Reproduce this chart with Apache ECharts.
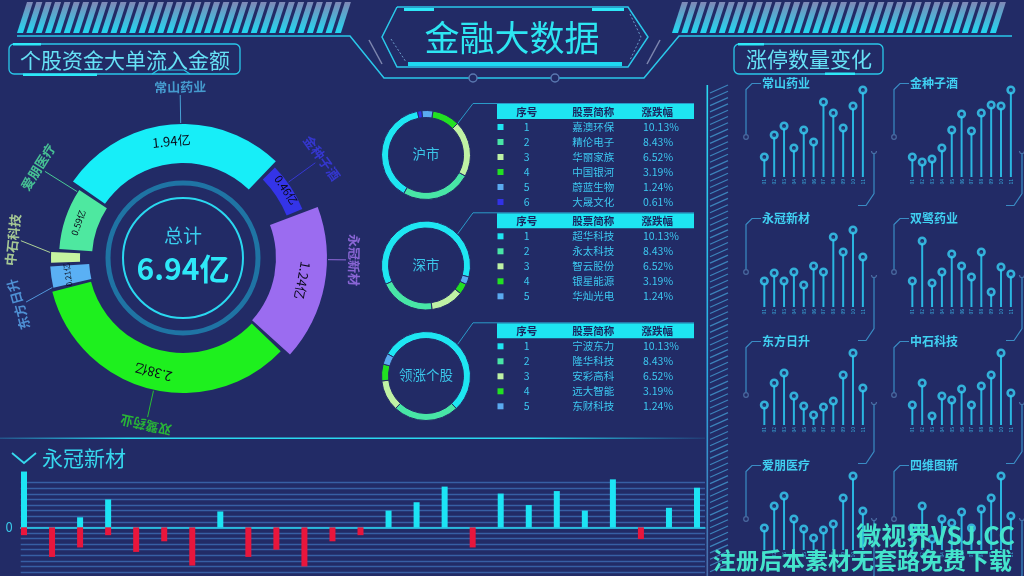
<!DOCTYPE html>
<html><head><meta charset="utf-8"><title>金融大数据</title>
<script src="https://cdn.jsdelivr.net/npm/echarts@6.0.0/dist/echarts.min.js"></script>
<style>html,body{margin:0;padding:0;background:#222b66;overflow:hidden}#main{width:1024px;height:576px}</style>
</head><body><div id="main"></div><script>
// ================= DATA =================
const pageTitle = '金融大数据';
const leftTitle = '个股资金大单流入金额';
const rightTitle = '涨停数量变化';
const totalLabel = '总计';
const unit = '亿';

const flowNames = ['常山药业','金种子酒','永冠新材','双鹭药业','东方日升','中石科技','爱朋医疗'];
const flowValues = [1.94, 0.46, 1.24, 2.38, 0.21, 0.12, 0.59];

const tableHeader = ['序号','股票简称','涨跌幅'];

const shTitle = '沪市';
const shNames = ['嘉澳环保','精伦电子','华丽家族','中国银河','蔚蓝生物','大晟文化'];
const shChange = ['10.13%','8.43%','6.52%','3.19%','1.24%','0.61%'];
const shRing = [139, 92, 73, 36, 14.5, 5.5];

const szTitle = '深市';
const szNames = ['超华科技','永太科技','智云股份','银星能源','华灿光电'];
const szChange = ['10.13%','8.43%','6.52%','3.19%','1.24%'];
const szRing = [220, 73, 43, 14, 10];

const leadTitle = '领涨个股';
const leadNames = ['宁波东力','隆华科技','安彩高科','远大智能','东财科技'];
const leadChange = ['10.13%','8.43%','6.52%','3.19%','1.24%'];
const leadRing = [197, 86, 40.5, 22, 14.4];

const limitTitles = ['常山药业','金种子酒','永冠新材','双鹭药业','东方日升','中石科技','爱朋医疗','四维图新'];
const limitDays = ['01','02','03','04','05','06','07','08','09','10','11'];
const limitChangShan = [20,42,51,29,47,35,75,64,49,71,87];
const limitJinZhong  = [20,15,18,29,47,63,46,64,72,71,87];
const limitYongGuan  = [26,34,26,35,22,41,35,70,55,77,50];
const limitShuangLu  = [26,66,24,35,53,41,30,55,15,40,33];
const limitDongFang  = [20,42,52,29,19,10,18,24,50,72,37];
const limitZhongShi  = [20,42,9,29,25,36,20,39,50,72,32];
const limitAiPeng    = [22,44,54,31,21,12,20,26,52,74,39];
const limitSiWei     = [22,44,11,31,27,38,22,41,52,74,34];

const barTitle = '永冠新材';
const barInflow  = [10,0,1.8,5,0,0,0,2.85,0,0,0,0,0,3.0,4.5,7.3,0,6.05,4,6.5,3.0,8.6,0,3.5,7.1];
const barOutflow = [-1.4,-5.3,-3.6,-1.4,-4.4,-2.5,-6.85,0,-5.3,-4,-7,-2.5,-1.4,0,0,0,-3.6,0,0,0,0,0,-2.1,0,0];

const watermark1 = '微视界VSJ.CC';
const watermark2 = '注册后本素材无套路免费下载';

// ================= STYLES =================
const BG = '#222b66';
const FONT = '"Noto Sans CJK SC","Noto Sans",sans-serif';
const LINE = '#2ac8ea';
const flowColors = ['#17eef8','#3434e8','#9b6cf0','#1ef01e','#5ab0f4','#c6f4a0','#4ee8a0'];
const flowNameColors = ['#4fb6e8','#3a3ae8','#a474f0','#2ad82a','#5aaaf0','#c8f0a0','#50e8a0'];
const flowRadius = [[95,134],[112,129],[93,144],[95,135],[94,133],[103,132],[91,124]];
const flowFont = [13,11,13,13,8,6,9];
const flowNameShift = [-4.7, 2.3, 10, 2, 7.4, -5.8, -13.4];
const PIE_C = [183, 258];
const START = 146;
const ringColors = ['#1ee6f2','#48e6a6','#bff2a4','#22e022','#5aaaf0','#3232e6'];

// ================= BUILD =================
const G = [];
function T(x, y, text, size, fill, align, weight, extra) {
  G.push(Object.assign({ type: 'text', x: x, y: y, silent: true,
    style: { text: text, fill: fill, fontSize: size, fontFamily: FONT, fontWeight: weight || 'normal',
      align: align || 'center', textAlign: align || 'center', verticalAlign: 'middle', textVerticalAlign: 'middle' } }, extra || {}));
}
function L(points, stroke, lw, dash) {
  G.push({ type: 'polyline', silent: true, shape: { points: points }, style: { stroke: stroke, lineWidth: lw || 1, fill: null, lineDash: dash || null } });
}
function R(x, y, w, h, fill, stroke, lw, r) {
  G.push({ type: 'rect', silent: true, shape: { x: x, y: y, width: w, height: h, r: r || 0 }, style: { fill: fill || 'none', stroke: stroke || null, lineWidth: lw || 0 } });
}
function C(cx, cy, r, fill, stroke, lw) {
  G.push({ type: 'circle', silent: true, shape: { cx: cx, cy: cy, r: r }, style: { fill: fill || 'none', stroke: stroke || null, lineWidth: lw || 0 } });
}
const stripeFill = { type: 'linear', x: 0, y: 0, x2: 0, y2: 1, colorStops: [{ offset: 0, color: '#8088b6' }, { offset: 1, color: '#20d8f2' }] };

// top stripes
[17, 672].forEach(function (x0) {
  for (let i = 0; i < 35; i++) {
    const bx = x0 + i * 9.35;
    G.push({ type: 'polygon', silent: true, shape: { points: [[bx, 33], [bx + 6, 33], [bx + 16, 2], [bx + 10, 2]] }, style: { fill: stripeFill } });
  }
});
// header lines
L([[17, 36], [350, 36], [384, 78], [644, 78], [679, 36], [1012, 36]], LINE, 1.5);
L([[369, 40], [382, 64]], 'rgba(200,210,235,0.55)', 1.5);
L([[660, 40], [647, 64]], 'rgba(200,210,235,0.55)', 1.5);
C(473, 78, 4, BG, '#5a78b0', 1.5);
C(555, 78, 4, BG, '#5a78b0', 1.5);
// title box
L([[397, 7], [628, 7], [648, 37], [628, 67], [397, 67], [382, 37], [397, 7]], LINE, 1.5);
R(404, 8, 30, 3, '#2ee8f8');
R(592, 8, 32, 3, '#2ee8f8');
R(408, 62, 214, 4, '#1ed8f0');
L([[391, 39], [406, 62]], '#6a9ac8', 1, [2, 2]);
L([[630, 14], [641, 37], [630, 60]], '#6a9ac8', 1, [2, 2]);
T(512, 38, pageTitle, 35, '#2de6f2');

// section titles
R(9, 44, 231, 30, 'none', LINE, 1.3, 5);
R(13, 43, 28, 2.5, '#2ee8f8');
R(23, 73.5, 74, 2.5, '#2ee8f8');
L([[152, 74], [158, 70], [184, 70], [190, 74]], LINE, 1.2);
T(125, 60, leftTitle, 21, '#66e2f6');
R(734, 44, 149, 30, 'none', LINE, 1.3, 5);
R(738, 43, 26, 2.5, '#2ee8f8');
R(825, 72.5, 30, 2.5, '#2ee8f8');
T(809, 59, rightTitle, 21, '#66e2f6');

// donut center decor
C(PIE_C[0], PIE_C[1], 75, 'none', '#1f74a4', 5);
C(PIE_C[0], PIE_C[1], 60, 'none', '#2ad8f0', 2);
const flowTotal = flowValues.reduce(function (a, b) { return a + b; }, 0);
T(PIE_C[0], 236, totalLabel, 19, '#3acdee');
T(PIE_C[0], 269, (Math.round(flowTotal * 100) / 100) + unit, 30, '#2ee8f8', 'center', 'bold');

// separator line above bottom chart
G.push({ type: 'rect', silent: true, shape: { x: 0, y: 437.5, width: 705, height: 1.5 }, style: { fill: { type: 'linear', x: 0, y: 0, x2: 1, y2: 0, colorStops: [{ offset: 0, color: 'rgba(40,200,240,0.25)' }, { offset: 0.18, color: '#2ad8f0' }, { offset: 0.75, color: '#2ad8f0' }, { offset: 1, color: 'rgba(40,200,240,0.1)' }] } } });
// bottom chart title
L([[12, 453], [24, 463], [36, 453]], '#36d8ee', 1.8);
T(42, 458, barTitle, 21, '#36d8ee', 'left');

// right panel strip
G.push({ type: 'rect', silent: true, shape: { x: 706.5, y: 85, width: 1.6, height: 491 }, style: { fill: { type: 'linear', x: 0, y: 0, x2: 0, y2: 1, colorStops: [{ offset: 0, color: '#2ad8f0' }, { offset: 0.6, color: '#2aa8e0' }, { offset: 1, color: '#4a6aa8' }] } } });
for (let y = 85; y < 570; y += 6.3) {
  L([[710, y + 8], [728, y]], 'rgba(70,160,215,0.75)', 1.2);
}

// tables
function table(headTop, title, names, changes, center) {
  const hh = 15;
  R(497, headTop, 197, hh, '#1ee4f2');
  const cols = [526.7, 593.3, 657.3];
  tableHeader.forEach(function (h, k) { T(cols[k], headTop + hh / 2 + 0.5, h, 10.5, '#1b2660', 'center', 'bold'); });
  names.forEach(function (n, i) {
    const y = headTop + hh / 2 + 15.5 + 15 * i;
    R(497.5, y - 3, 6, 6, ringColors[i]);
    T(526.7, y, String(i + 1), 10.5, '#3cc8f0');
    T(593.3, y, n, 10.5, '#3cc8f0');
    T(643, y, changes[i], 10.5, '#3cc8f0', 'left');
  });
  L([[455, center - 28], [473, headTop - 0.5], [694, headTop - 0.5]], '#2a9ac8', 1);
  T(426, center - 1, title, 13.5, '#3ac6ea');
}
table(104, shTitle, shNames, shChange, 155);
table(213.3, szTitle, szNames, szChange, 265.5);
table(323.3, leadTitle, leadNames, leadChange, 376);

// ================= SERIES =================
const series = [];
// big donut: per slice series
let acc = 0; const starts = [], ends = [], mids = [];
flowValues.forEach(function (v) {
  const s = START - acc / flowTotal * 360, e = START - (acc + v) / flowTotal * 360;
  starts.push(s); ends.push(e); mids.push((s + e) / 2); acc += v;
});
function norm180(a) { a = ((a % 360) + 360) % 360; return a > 180 ? a - 360 : a; }
function norm360(a) { return ((a % 360) + 360) % 360; }
flowNames.forEach(function (name, i) {
  series.push({
    type: 'pie', center: PIE_C, radius: flowRadius[i], startAngle: START, padAngle: 1.6, silent: true,
    avoidLabelOverlap: false, labelLine: { show: false },
    data: flowValues.map(function (v, j) {
      return j === i ? {
        name: flowNames[j], value: v, itemStyle: { color: flowColors[j] },
        label: { show: true, position: 'inside', formatter: v + unit, rotate: norm180(mids[j] - 90), color: '#0a0a1a', fontSize: flowFont[j], fontFamily: FONT }
      } : { name: flowNames[j], value: v, itemStyle: { color: 'rgba(0,0,0,0)' }, label: { show: false } };
    })
  });
});
// name labels + label lines in polar
const labelAngles = mids.map(function (m, i) { return m + flowNameShift[i]; });
series.push({
  type: 'scatter', coordinateSystem: 'polar', silent: true, symbolSize: 1, itemStyle: { color: 'rgba(0,0,0,0)' },
  label: { show: true, position: 'inside', formatter: function (p) { return p.name; }, fontSize: 13, fontWeight: 'bold', fontFamily: FONT },
  data: flowNames.map(function (n, i) {
    return { name: n, value: [171, norm360(labelAngles[i])], label: { color: flowNameColors[i], rotate: norm180(labelAngles[i] - 90) } };
  })
});
flowNames.forEach(function (n, i) {
  const a2 = labelAngles[i];
  const a1 = Math.min(Math.max(a2, ends[i] + 1), starts[i] - 1);
  series.push({
    type: 'line', coordinateSystem: 'polar', silent: true, symbol: 'none',
    lineStyle: { color: flowNameColors[i], width: 1, opacity: 0.85 },
    data: [[flowRadius[i][1] + 1, norm360(a1)], [163, norm360(a2)]]
  });
});
// small donuts
[[shRing, [426, 155], 101, false], [szRing, [426, 265.5], 345, false], [leadRing, [426, 376], 150, true]].forEach(function (d) {
  series.push({
    type: 'pie', center: d[1], radius: [37.5, 44.5], startAngle: d[2], clockwise: d[3], silent: true,
    label: { show: false }, labelLine: { show: false },
    itemStyle: { borderColor: BG, borderWidth: 1 },
    data: d[0].map(function (v, i) { return { value: v, itemStyle: { color: ringColors[i] } }; })
  });
});

// lollipops
const grids = [], xAxes = [], yAxes = [];
const limitSeries = [limitChangShan, limitJinZhong, limitYongGuan, limitShuangLu, limitDongFang, limitZhongShi, limitAiPeng, limitSiWei];
const colLeft = [759.4, 907.4];
const rowBase = [177, 307, 425, 550];
const titleY = [83.5, 218.5, 341.5, 465.5];
const hookY = [151, 275, 402, 518];
limitSeries.forEach(function (vals, k) {
  const c = k % 2, r = Math.floor(k / 2);
  grids.push({ left: colLeft[c], top: rowBase[r] - 100, width: 108.4, height: 100 });
  xAxes.push({ type: 'category', gridIndex: k, data: limitDays, axisLine: { show: false }, axisTick: { show: false },
    axisLabel: { fontSize: 5, color: '#38a8d8', rotate: 90, margin: 2, interval: 0 } });
  yAxes.push({ type: 'value', gridIndex: k, min: 0, max: 100, show: false });
  series.push({ type: 'bar', xAxisIndex: k, yAxisIndex: k, data: vals, barWidth: 2, silent: true, itemStyle: { color: '#2ab6e0' } });
  series.push({ type: 'scatter', xAxisIndex: k, yAxisIndex: k, data: vals, symbolSize: 6.5, silent: true,
    itemStyle: { color: BG, borderColor: '#38d2f6', borderWidth: 2.6 } });
  // decorations
  const tl = c === 0 ? 762 : 910;
  const ty = titleY[r];
  T(tl, ty, limitTitles[k], 12, '#40d0f2', 'left', 'bold');
  L([[tl - 1, ty], [tl - 10, ty], [tl - 16, ty + 6], [tl - 16, ty + 51]], '#3a8cc4', 1.2);
  C(tl - 16, ty + 53.5, 2.3, BG, '#4a6aa0', 1.2);
  const xh = colLeft[c] + 114.6, hy = hookY[r];
  G.push({ type: 'arc', silent: true, shape: { cx: xh, cy: hy, r: 2.5, startAngle: 0, endAngle: Math.PI }, style: { stroke: '#4a6aa0', lineWidth: 1.2, fill: 'none' } });
  L([[xh, hy + 2.5], [xh, titleY[r] + 110], [xh - 8, titleY[r] + 122], [xh - 16, titleY[r] + 122]], '#3a8cc4', 1.2);
});

// bottom bar chart (grid 8)
grids.push({ left: 20.7, right: 1024 - 705, top: 482.7, height: 89.3 });
xAxes.push({ type: 'value', gridIndex: 8, min: -0.118, max: 24.285, axisLine: { show: true, onZero: true, lineStyle: { color: '#2ad8f0', width: 1.5 } },
  axisTick: { show: false }, axisLabel: { show: false }, splitLine: { show: false } });
yAxes.push({ type: 'value', gridIndex: 8, min: -8, max: 8, interval: 1, axisLine: { show: false }, axisTick: { show: false },
  axisLabel: { color: '#3ac8e8', fontSize: 13, margin: 8, fontFamily: FONT, formatter: function (v) { return v === 0 ? '0' : ''; } },
  splitLine: { lineStyle: { color: 'rgba(70,130,205,0.6)', width: 1.3 } } });
series.push({ type: 'bar', xAxisIndex: 8, yAxisIndex: 8, barWidth: 6, clip: false, silent: true, z: 3, itemStyle: { color: '#1de4f4' },
  data: barInflow.map(function (v, i) { return [i, v]; }) });
series.push({ type: 'bar', xAxisIndex: 8, yAxisIndex: 8, barWidth: 6, barGap: '-100%', clip: false, silent: true, z: 3, itemStyle: { color: '#e8163c' },
  data: barOutflow.map(function (v, i) { return [i, v]; }) });

// watermark
T(1015, 535, watermark1, 25, '#44e4cc', 'right', 'bold', { z: 100 });
T(1012, 560, watermark2, 23, '#44e4cc', 'right', 'bold', { z: 100 });

const option = {
  backgroundColor: BG,
  animation: false,
  textStyle: { fontFamily: FONT },
  graphic: { elements: G },
  polar: { center: PIE_C, radius: 200 },
  angleAxis: { type: 'value', min: 0, max: 360, startAngle: 0, clockwise: false, show: false },
  radiusAxis: { type: 'value', min: 0, max: 200, show: false },
  grid: grids, xAxis: xAxes, yAxis: yAxes,
  series: series
};
const chart = echarts.init(document.getElementById('main'), null, { renderer: 'canvas' });
chart.setOption(option);
</script></body></html>
